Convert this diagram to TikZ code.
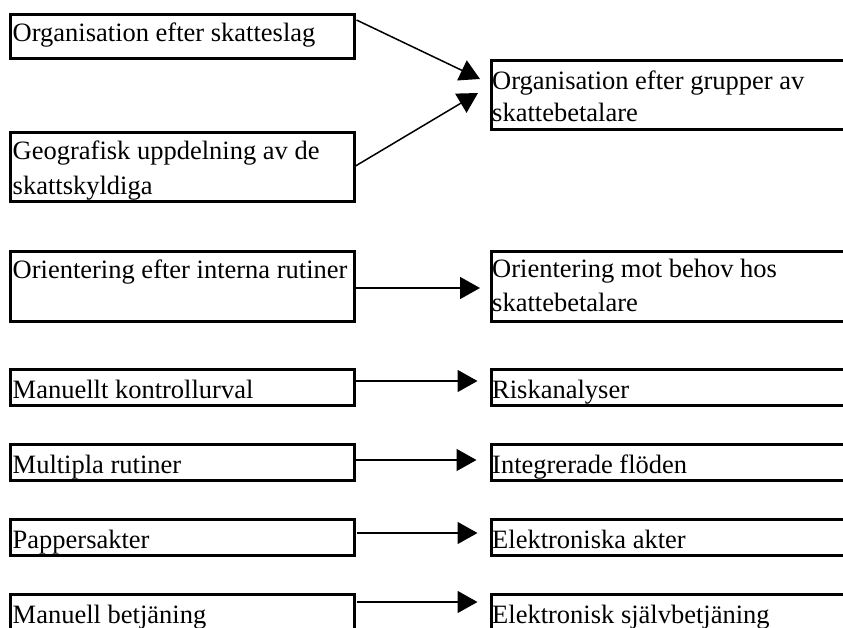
\documentclass[tikz,border=0pt]{standalone}
\usepackage{fontspec}
\setmainfont{Liberation Serif}
\usetikzlibrary{arrows.meta}
\tikzset{
  box/.style={draw=black, line width=3pt, rectangle, inner sep=0pt, outer sep=0pt, anchor=north west},
  lbl/.style={anchor=base west, inner sep=0pt, align=left, font=\fontsize{26.5}{32}\selectfont},
  arr/.style={line width=1.5pt, -{Triangle[length=20pt,width=22pt]}}
}
\begin{document}
\begin{tikzpicture}[x=1pt,y=-1pt]
\useasboundingbox (0,0) rectangle (843,628);
\clip (0,0) rectangle (843,628);
% left boxes
\node[box, minimum width=344pt, minimum height=44pt] (b1) at (10.5,14.5) {};
\node[box, minimum width=344pt, minimum height=69pt] (b2) at (10.5,132.5) {};
\node[box, minimum width=344pt, minimum height=70pt] (b3) at (10.5,251.5) {};
\node[box, minimum width=344pt, minimum height=36pt] (b4) at (10.5,369.5) {};
\node[box, minimum width=344pt, minimum height=36pt] (b5) at (10.5,444.5) {};
\node[box, minimum width=344pt, minimum height=36pt] (b6) at (10.5,519.5) {};
\node[box, minimum width=344pt, minimum height=65.5pt] (b7) at (10.5,594.5) {};
% right boxes
\node[box, minimum width=380pt, minimum height=69pt] (r1) at (491.5,60.5) {};
\node[box, minimum width=380pt, minimum height=70pt] (r3) at (491.5,251.5) {};
\node[box, minimum width=380pt, minimum height=36pt] (r4) at (491.5,369.5) {};
\node[box, minimum width=380pt, minimum height=36pt] (r5) at (491.5,444.5) {};
\node[box, minimum width=380pt, minimum height=36pt] (r6) at (491.5,519.5) {};
\node[box, minimum width=380pt, minimum height=65.5pt] (r7) at (491.5,594.5) {};
% texts (base anchor = baseline of last line)
\node[lbl] (t1) at ([xshift=2pt,yshift=-27.5pt]b1.north west) {Organisation efter skatteslag};
\node[lbl, font=\fontsize{26.5}{35}\selectfont] (t2) at ([xshift=2pt,yshift=-62.5pt]b2.north west) {Geografisk uppdelning av de\\skattskyldiga};
\node[lbl] (t3) at ([xshift=2pt,yshift=-27pt]b3.north west) {Orientering efter interna rutiner};
\node[lbl] (t4) at ([xshift=2pt,yshift=-28.5pt]b4.north west) {Manuellt kontrollurval};
\node[lbl] (t5) at ([xshift=2pt,yshift=-28.5pt]b5.north west) {Multipla rutiner};
\node[lbl] (t6) at ([xshift=2pt,yshift=-28.5pt]b6.north west) {Pappersakter};
\node[lbl] (t7) at ([xshift=2pt,yshift=-28.5pt]b7.north west) {Manuell betjäning};
\node[lbl] (s1) at ([xshift=0.5pt,yshift=-61.5pt]r1.north west) {Organisation efter grupper av\\skattebetalare};
\node[lbl, font=\fontsize{26.5}{34}\selectfont] (s3) at ([xshift=0.5pt,yshift=-60.5pt]r3.north west) {Orientering mot behov hos\\skattebetalare};
\node[lbl] (s4) at ([xshift=0.5pt,yshift=-28.5pt]r4.north west) {Riskanalyser};
\node[lbl] (s5) at ([xshift=0.5pt,yshift=-28.5pt]r5.north west) {Integrerade flöden};
\node[lbl] (s6) at ([xshift=0.5pt,yshift=-28.5pt]r6.north west) {Elektroniska akter};
\node[lbl] (s7) at ([xshift=0.5pt,yshift=-28.5pt]r7.north west) {Elektronisk självbetjäning};
% arrows
\draw[arr] ([xshift=2pt,yshift=-5.5pt]b1.north east) -- ([xshift=-11.5pt,yshift=-18.5pt]r1.north west);
\draw[arr] ([xshift=1pt,yshift=1pt]b2.east) -- ([xshift=-13.5pt,yshift=-32.5pt]r1.north west);
\draw[arr] ([yshift=-1.5pt]b3.east) -- ([xshift=-11.5pt,yshift=-1.5pt]b3.east -| r3.west);
\draw[arr] ([yshift=6.5pt]b4.east) -- ([xshift=-14pt,yshift=6.5pt]b4.east -| r4.west);
\draw[arr] ([yshift=2.5pt]b5.east) -- ([xshift=-15pt,yshift=2.5pt]b5.east -| r5.west);
\draw[arr] ([xshift=2pt,yshift=4.5pt]b6.east) -- ([xshift=-14pt,yshift=4.5pt]b6.east -| r6.west);
\draw[arr] ([xshift=2pt,yshift=25.25pt]b7.east) -- ([xshift=-14pt,yshift=25.25pt]b7.east -| r7.west);
\end{tikzpicture}
\end{document}
